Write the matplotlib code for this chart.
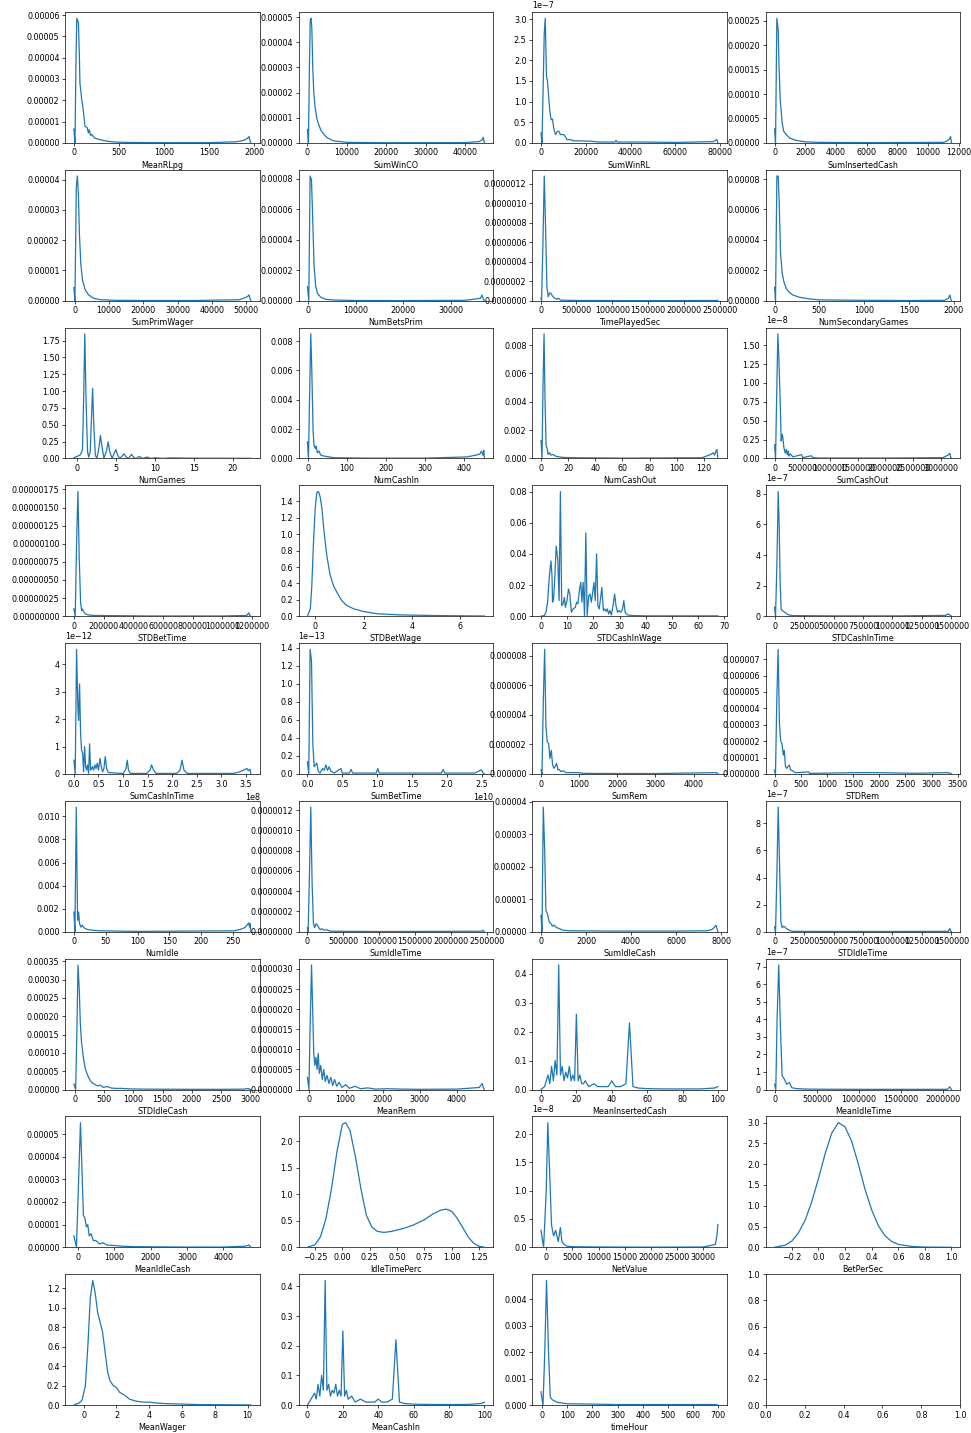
import numpy as np
import matplotlib
matplotlib.use("Agg")
import matplotlib.pyplot as plt
from matplotlib.ticker import MaxNLocator

plt.rcParams["axes.formatter.limits"] = [-7, 7]
plt.rcParams["font.size"] = 5.8
plt.rcParams["axes.linewidth"] = 0.5
plt.rcParams["axes.labelpad"] = 2.3
for ax_name in ("xtick", "ytick"):
    plt.rcParams[ax_name + ".major.size"] = 2.0
    plt.rcParams[ax_name + ".major.width"] = 0.5
    plt.rcParams[ax_name + ".major.pad"] = 2.0

# density curves of each feature (x grid, density)
meanrlpg_x = [0, 12, 22, 32, 50, 60, 67, 85, 104, 123, 135, 149, 160, 171, 185, 197, 230, 290, 365, 450, 600, 1000, 1500, 1800, 1870, 1900, 1925, 1945, 1955, 1965]
meanrlpg_y = np.array([0.65, 0.0, 3.5, 5.85, 5.65, 4.2, 2.8, 2.1, 1.55, 0.78, 0.75, 0.7, 0.47, 0.62, 0.35, 0.4, 0.22, 0.15, 0.08, 0.04, 0.02, 0.01, 0.01, 0.05, 0.1, 0.15, 0.2, 0.3, 0.1, 0.0]) * 1e-5

sumwinco_x = [0, 250, 500, 700, 900, 1100, 1350, 1600, 1950, 2400, 2800, 3400, 4100, 5000, 6600, 10000, 20000, 40000, 43500, 44200, 44500, 44800]
sumwinco_y = np.array([0.53, 0.0, 3.0, 4.85, 4.95, 4.6, 3.0, 2.0, 1.4, 0.95, 0.75, 0.5, 0.35, 0.2, 0.08, 0.02, 0.005, 0.01, 0.05, 0.12, 0.22, 0.0]) * 1e-5

sumwinrl_x = [0, 450, 1000, 1450, 1900, 2450, 2900, 3900, 4500, 5100, 5800, 6500, 7300, 8000, 8700, 10200, 10900, 11600, 13000, 14500, 17000, 22000, 26000, 33000, 33500, 34000, 45000, 60000, 77000, 78500, 79000]
sumwinrl_y = np.array([0.24, 0.0, 1.45, 2.66, 3.02, 1.61, 1.49, 0.8, 0.56, 0.58, 0.32, 0.2, 0.28, 0.28, 0.2, 0.2, 0.15, 0.08, 0.08, 0.05, 0.05, 0.04, 0.02, 0.02, 0.06, 0.02, 0.02, 0.01, 0.03, 0.08, 0.0]) * 1e-7

suminsertedcash_x = [0, 65, 150, 240, 280, 370, 500, 590, 760, 980, 1400, 2050, 2950, 6000, 11000, 11200, 11400, 11470, 11530]
suminsertedcash_y = np.array([2.85, 0.0, 25.5, 23.0, 17.0, 8.8, 4.1, 2.4, 1.7, 1.0, 0.5, 0.2, 0.1, 0.05, 0.1, 0.3, 0.8, 1.3, 0.0]) * 1e-5

sumprimwager_x = [-200, 100, 500, 800, 1100, 1400, 1800, 2300, 3100, 4100, 5500, 7500, 12000, 20000, 35000, 48000, 50300, 50800, 51100, 51300]
sumprimwager_y = np.array([0.43, 0.0, 3.76, 4.12, 3.54, 2.22, 1.23, 0.68, 0.35, 0.19, 0.08, 0.03, 0.01, 0.005, 0.005, 0.03, 0.13, 0.19, 0.05, 0.0]) * 1e-5

numbetsprim_x = [-140, 140, 420, 700, 910, 1260, 1610, 1960, 2660, 3710, 5460, 10000, 20000, 33000, 36260, 36610, 36820, 37100]
numbetsprim_y = np.array([0.92, 0.0, 8.18, 7.96, 5.98, 2.24, 0.92, 0.48, 0.22, 0.09, 0.04, 0.01, 0.005, 0.02, 0.15, 0.37, 0.15, 0.0]) * 1e-5

timeplayedsec_x = [6000, 14000, 32700, 51400, 70000, 88700, 107000, 126000, 145000, 163000, 187000, 220000, 247000, 280000, 444000, 1000000, 2000000, 2475000]
timeplayedsec_y = np.array([0.3, 0.0, 5.8, 12.8, 7.5, 1.4, 0.4, 0.8, 0.75, 0.5, 0.3, 0.15, 0.24, 0.05, 0.02, 0.01, 0.01, 0.02]) * 1e-7

numsecondarygames_x = [0, 11, 26, 41, 52, 67, 86, 104, 130, 167, 205, 279, 391, 502, 1000, 1500, 1900, 1940, 1958, 1965, 1975]
numsecondarygames_y = np.array([0.88, 0.0, 8.2, 8.2, 6.4, 3.1, 1.8, 1.25, 0.81, 0.53, 0.37, 0.22, 0.11, 0.05, 0.02, 0.01, 0.02, 0.15, 0.37, 0.15, 0.0]) * 1e-5

numgames_x = [-0.4, 0.0, 0.4, 0.7, 0.85, 1.0, 1.15, 1.35, 1.5, 1.7, 1.85, 2.0, 2.15, 2.35, 2.55, 2.8, 3.0, 3.2, 3.45, 3.8, 4.0, 4.2, 4.5, 4.85, 5.0, 5.2, 5.5, 5.9, 6.0, 6.3, 6.6, 7.0, 7.3, 7.6, 8.0, 8.4, 9.0, 9.5, 10.0, 11.0, 12.0, 14.0, 16.0, 18.0, 20.0, 22.3]
numgames_y = [0.01, 0.03, 0.05, 0.12, 0.9, 1.85, 0.9, 0.1, 0.02, 0.1, 0.6, 1.04, 0.5, 0.05, 0.0, 0.15, 0.34, 0.18, 0.0, 0.12, 0.245, 0.1, 0.0, 0.1, 0.13, 0.05, 0.0, 0.05, 0.07, 0.02, 0.0, 0.06, 0.01, 0.0, 0.03, 0.0, 0.02, 0.0, 0.01, 0.0, 0.008, 0.004, 0.003, 0.003, 0.002, 0.002]

numcashin_x = [-1.7, 0.9, 4.3, 6.8, 9.4, 12.8, 15.3, 18.7, 20.4, 23.8, 28.1, 32.3, 40.8, 53.6, 66.4, 150, 300, 407, 432, 441, 445, 449, 451, 452.5]
numcashin_y = np.array([1.13, 0.0, 5.0, 8.5, 6.1, 1.85, 0.84, 0.68, 0.84, 0.38, 0.5, 0.23, 0.16, 0.1, 0.05, 0.02, 0.02, 0.1, 0.23, 0.3, 0.5, 0.22, 0.54, 0.0]) * 1e-3

numcashout_x = [0, 0.75, 1.5, 2.25, 3.0, 3.75, 4.5, 5.25, 6.25, 7.5, 8.75, 11.25, 16.25, 23.75, 60, 118.75, 122.5, 125, 126.75, 127.75, 128.75, 129.5, 130.25]
numcashout_y = np.array([1.26, 0.0, 5.2, 8.8, 4.0, 0.86, 0.74, 0.28, 0.4, 0.23, 0.28, 0.14, 0.07, 0.05, 0.02, 0.05, 0.19, 0.28, 0.4, 0.23, 0.5, 0.63, 0.0]) * 1e-3

sumcashout_x = [0, 18000, 42000, 60000, 78000, 102000, 120000, 139000, 151000, 169000, 193000, 211000, 229000, 247000, 259000, 283000, 331000, 482000, 512000, 663000, 693000, 813000, 2000000, 3043000, 3133000, 3163000, 3181000, 3193000]
sumcashout_y = np.array([0.18, 0.0, 0.97, 1.65, 1.32, 0.75, 0.23, 0.32, 0.27, 0.14, 0.07, 0.12, 0.05, 0.1, 0.03, 0.06, 0.02, 0.05, 0.01, 0.035, 0.01, 0.005, 0.005, 0.01, 0.045, 0.07, 0.01, 0.0]) * 1e-8

stdbettime_x = [0, 9000, 18000, 27000, 36000, 45000, 52000, 58000, 65000, 74000, 90000, 130000, 500000, 1000000, 1164000, 1177000, 1184000, 1191000]
stdbettime_y = np.array([1.0, 0.0, 10.1, 17.2, 7.9, 1.9, 0.8, 1.0, 0.64, 0.4, 0.2, 0.1, 0.03, 0.03, 0.1, 0.46, 0.1, 0.0]) * 1e-7

stdbetwage_x = [-0.32, -0.2, -0.14, -0.07, 0.0, 0.07, 0.14, 0.21, 0.28, 0.37, 0.48, 0.62, 0.76, 0.9, 1.1, 1.31, 1.59, 2.0, 2.55, 3.5, 4.9, 6.3, 7.0]
stdbetwage_y = [0.0, 0.09, 0.37, 0.9, 1.31, 1.51, 1.52, 1.45, 1.31, 1.02, 0.74, 0.5, 0.37, 0.29, 0.19, 0.13, 0.09, 0.057, 0.03, 0.016, 0.008, 0.004, 0.002]

stdcashinwage_x = [0, 1.3, 1.9, 2.5, 3.2, 3.8, 4.2, 4.4, 4.8, 5.3, 5.8, 6.4, 6.9, 7.4, 7.9, 8.4, 8.9, 9.3, 9.9, 10.5,
                   11.0, 11.6, 12.3, 13.1, 13.6, 14.1, 14.7, 15.2, 15.6, 16.1, 16.6, 17.1, 17.6, 18.2, 18.7, 19.2, 19.7, 20.2, 20.7, 21.2,
                   21.7, 22.2, 22.7, 23.2, 23.8, 24.3, 24.8, 25.3, 25.8, 26.3, 26.8, 27.4, 28.1, 28.6, 29.2, 29.8, 30.5, 31.1, 31.6, 32.1,
                   33.0, 34.9, 40.0, 48.9, 67.5]
stdcashinwage_y = [0, 0.0004, 0.0025, 0.009, 0.026, 0.0355, 0.026, 0.009, 0.011, 0.026, 0.045, 0.0365, 0.01, 0.08, 0.0068, 0.0078, 0.012, 0.0057, 0.01, 0.0174,
                   0.0142, 0.0025, 0.0047, 0.0057, 0.009, 0.008, 0.0174, 0.0217, 0.009, 0.0217, 0.0004, 0.0535, 0.0004, 0.013, 0.0142, 0.009, 0.015, 0.0217, 0.01, 0.04,
                   0.0068, 0.0047, 0.011, 0.0185, 0.0036, 0.0047, 0.003, 0.0047, 0.0015, 0.0036, 0.0008, 0.0057, 0.0142, 0.0068, 0.0025, 0.0036, 0.0025, 0.0047, 0.01, 0.0025,
                   0.0008, 0.0004, 0.0002, 0.0002, 0.0002]

stdcashintime_x = [0, 8300, 19600, 31000, 39300, 47600, 55800, 64100, 78600, 93000, 112700, 155000, 520000, 1030000, 1450000, 1475000, 1490000, 1500000]
stdcashintime_y = np.array([0.58, 0.0, 3.3, 8.15, 5.9, 2.2, 0.48, 0.37, 0.3, 0.22, 0.1, 0.04, 0.02, 0.02, 0.05, 0.15, 0.05, 0.0]) * 1e-7

sumcashintime_x = np.array([0, 0.027, 0.054, 0.081, 0.095, 0.115, 0.136, 0.156, 0.177, 0.197, 0.217, 0.238, 0.258, 0.278, 0.299, 0.319, 0.34, 0.36, 0.38, 0.40,
                            0.43, 0.45, 0.475, 0.50, 0.53, 0.557, 0.584, 0.611, 0.638, 0.665, 0.70, 1.005, 1.06, 1.086, 1.11, 1.15, 1.48, 1.55, 1.58, 1.62,
                            1.67, 2.09, 2.16, 2.20, 2.24, 2.30, 3.25, 3.38, 3.45, 3.52, 3.55, 3.585, 3.6]) * 1e8
sumcashintime_y = np.array([0.5, 0, 4.54, 2.43, 1.95, 3.28, 1.47, 0.87, 0.75, 0.08, 1.0, 0.27, 0.14, 0.33, 0.02, 1.1, 0.14, 0.2, 0.27, 0.14,
                            0.33, 0.2, 0.39, 0.14, 0.57, 0.27, 0.08, 0.2, 0.63, 0.2, 0.05, 0.02, 0.2, 0.5, 0.14, 0.02, 0.02, 0.14, 0.33, 0.14,
                            0.02, 0.02, 0.14, 0.5, 0.14, 0.02, 0.02, 0.08, 0.14, 0.2, 0.12, 0.17, 0.0]) * 1e-12

sumbettime_x = np.array([0, 0.019, 0.038, 0.058, 0.077, 0.096, 0.115, 0.134, 0.154, 0.18, 0.216, 0.24, 0.264, 0.288, 0.31, 0.336, 0.384, 0.48, 0.5, 0.6,
                         0.624, 0.648, 0.984, 1.008, 1.03, 1.92, 1.944, 1.968, 2.4, 2.45, 2.49, 2.52, 2.535]) * 1e10
sumbettime_y = np.array([0.135, 0, 1.38, 1.25, 0.34, 0.08, 0.1, 0.12, 0.03, 0.01, 0.06, 0.04, 0.1, 0.04, 0.08, 0.03, 0.01, 0.06, 0.01, 0.01,
                         0.05, 0.01, 0.01, 0.06, 0.01, 0.01, 0.05, 0.01, 0.01, 0.03, 0.045, 0.01, 0]) * 1e-13

sumrem_x = [0, 26, 61, 96, 130, 165, 200, 235, 270, 305, 340, 374, 409, 444, 479, 522, 583, 652, 1000, 1090, 2000, 3000, 4610, 4640]
sumrem_y = np.array([0.27, 0.0, 5.0, 8.45, 3.2, 2.17, 2.06, 1.05, 1.6, 0.6, 0.38, 0.54, 0.72, 0.27, 0.31, 0.16, 0.22, 0.09, 0.09, 0.04, 0.03, 0.03, 0.09, 0.0]) * 1e-6

stdrem_x = [0, 18, 43, 68, 93, 117, 142, 167, 185, 210, 235, 260, 284, 308, 339, 400, 650, 667, 830, 1545, 1975, 2700, 3300, 3360, 3380]
stdrem_y = np.array([0.24, 0.0, 4.5, 7.6, 3.1, 2.0, 1.85, 1.15, 1.45, 0.44, 0.34, 0.48, 0.54, 0.24, 0.2, 0.08, 0.12, 0.04, 0.04, 0.08, 0.08, 0.04, 0.08, 0.04, 0.0]) * 1e-6

numidle_x = [0, 1.6, 3.7, 5.8, 7.4, 8.9, 11, 13.1, 15.2, 17.9, 21, 27.8, 41, 100, 251, 261.5, 269, 272, 274.6, 276, 277, 278]
numidle_y = np.array([1.7, 0.0, 10.8, 1.0, 1.7, 0.7, 0.4, 0.57, 0.37, 0.28, 0.2, 0.14, 0.08, 0.03, 0.08, 0.2, 0.37, 0.57, 0.77, 0.4, 0.7, 0.0]) * 1e-3

sumidletime_x = [0, 9300, 28000, 46500, 65000, 83600, 102000, 121000, 139000, 158000, 177000, 200000, 232000, 270000, 316000, 1000000, 2430000, 2444000, 2463000]
sumidletime_y = np.array([0.4, 0.0, 5.7, 12.3, 4.7, 0.8, 0.4, 0.8, 0.65, 0.4, 0.2, 0.3, 0.15, 0.2, 0.05, 0.02, 0.05, 0.15, 0.0]) * 1e-7

sumidlecash_x = [0, 44, 102, 161, 219, 292, 365, 438, 511, 584, 686, 803, 949, 1241, 3000, 6000, 7373, 7592, 7694, 7767, 7811, 7855]
sumidlecash_y = np.array([5.0, 0.0, 38.3, 25.7, 6.6, 5.3, 3.0, 2.5, 1.7, 2.0, 1.3, 1.0, 0.5, 0.3, 0.2, 0.2, 0.3, 0.7, 1.3, 2.0, 1.0, 0.0]) * 1e-6

stdidletime_x = [0, 8500, 19600, 31000, 42400, 53800, 65100, 76500, 87900, 99300, 112700, 133400, 155000, 520000, 1030000, 1472000, 1486000, 1494000, 1500000]
stdidletime_y = np.array([0.36, 0.0, 4.2, 9.2, 5.0, 0.73, 0.3, 0.4, 0.36, 0.24, 0.17, 0.07, 0.03, 0.02, 0.02, 0.03, 0.24, 0.05, 0.0]) * 1e-7

stdidlecash_x = [-20, 10, 30, 50, 70, 90, 110, 140, 170, 200, 240, 280, 330, 380, 430, 480, 550, 620, 700, 800, 900, 1000, 1200, 1500, 2000, 2500, 2900, 2960, 2990, 3010]
stdidlecash_y = np.array([1.5, 0.0, 15, 34, 28, 18, 13, 9, 6, 4.5, 3.0, 2.0, 1.5, 1.0, 1.2, 0.6, 0.8, 0.4, 0.3, 0.3, 0.2, 0.15, 0.1, 0.08, 0.05, 0.05, 0.1, 0.3, 0.1, 0.0]) * 1e-5

meanrem_x = [-30, 10, 40, 80, 110, 140, 170, 200, 230, 260, 290, 330, 370, 410, 450, 500, 550, 600, 650, 700, 760, 820, 900, 1000, 1100, 1250, 1400, 1600, 1800, 2100, 2500, 3000, 4000, 4600, 4680, 4720, 4740]
meanrem_y = np.array([3, 0, 15, 31, 20, 9, 6, 8, 5, 9, 4, 6, 2.5, 5, 2, 3.5, 1.5, 3, 1, 2.5, 0.8, 1.8, 0.5, 1.2, 0.3, 0.8, 0.2, 0.4, 0.1, 0.2, 0.1, 0.05, 0.1, 0.5, 1.5, 0.2, 0]) * 1e-7

meaninsertedcash_x = [0, 2, 4, 5, 6, 7, 8, 9, 10, 11, 12, 13, 14, 15, 16, 17, 18, 19, 20, 21, 22, 23, 24, 25, 27, 30, 32, 35, 38, 40, 42, 45, 48, 50, 52, 55, 60, 70, 80, 90, 98, 100]
meaninsertedcash_y = [0.0, 0.01, 0.05, 0.02, 0.08, 0.03, 0.1, 0.05, 0.43, 0.05, 0.08, 0.03, 0.06, 0.04, 0.08, 0.03, 0.05, 0.03, 0.26, 0.03, 0.05, 0.02, 0.02, 0.03, 0.01, 0.02, 0.01, 0.01, 0.01, 0.03, 0.01, 0.01, 0.02, 0.23, 0.01, 0.005, 0.003, 0.002, 0.002, 0.002, 0.005, 0.01]

meanidletime_x = [-5000, 10000, 25000, 45000, 65000, 85000, 110000, 140000, 170000, 200000, 260000, 400000, 1000000, 2050000, 2080000, 2100000]
meanidletime_y = np.array([0.3, 0, 4, 7.1, 3.5, 0.8, 0.6, 0.3, 0.4, 0.1, 0.05, 0.02, 0.01, 0.01, 0.15, 0]) * 1e-7

meanidlecash_x = [-100, -30, 30, 80, 120, 160, 200, 240, 280, 320, 370, 430, 500, 600, 700, 800, 1000, 1200, 1500, 2000, 3000, 4000, 4600, 4700, 4750]
meanidlecash_y = np.array([0.5, 0, 3, 5.5, 3.5, 1.4, 1.3, 0.9, 1.0, 0.5, 0.6, 0.3, 0.3, 0.15, 0.2, 0.1, 0.08, 0.05, 0.03, 0.02, 0.01, 0.01, 0.05, 0.1, 0]) * 1e-5

idletimeperc_x = [-0.32, -0.25, -0.2, -0.15, -0.1, -0.05, 0.0, 0.03, 0.07, 0.12, 0.17, 0.22, 0.27, 0.32, 0.38, 0.45, 0.55, 0.65, 0.75, 0.83, 0.9, 0.95, 1.0, 1.05, 1.1, 1.15, 1.2, 1.25, 1.3]
idletimeperc_y = [0, 0.05, 0.2, 0.55, 1.1, 1.8, 2.32, 2.35, 2.2, 1.7, 1.1, 0.6, 0.38, 0.3, 0.28, 0.3, 0.35, 0.42, 0.52, 0.63, 0.7, 0.72, 0.68, 0.55, 0.38, 0.2, 0.08, 0.02, 0]

netvalue_x = [-1000, -500, 0, 300, 700, 1000, 1400, 1800, 2300, 2700, 3000, 3400, 4000, 5000, 10000, 20000, 30000, 32300, 32600, 32800]
netvalue_y = np.array([0.3, 0, 1.0, 2.2, 1.2, 0.4, 0.2, 0.3, 0.1, 0.35, 0.1, 0.05, 0.02, 0.01, 0.005, 0.002, 0.005, 0.05, 0.2, 0.4]) * 1e-8

betpersec_x = [-0.33, -0.25, -0.2, -0.15, -0.1, -0.05, 0, 0.05, 0.1, 0.15, 0.2, 0.25, 0.3, 0.35, 0.4, 0.45, 0.5, 0.55, 0.6, 0.7, 0.8, 0.9, 1.0]
betpersec_y = [0, 0.05, 0.15, 0.35, 0.65, 1.1, 1.65, 2.25, 2.75, 3.0, 2.9, 2.55, 2.0, 1.4, 0.9, 0.52, 0.28, 0.14, 0.07, 0.02, 0.005, 0.002, 0]

meanwager_x = [-0.6, -0.3, -0.1, 0.1, 0.25, 0.4, 0.55, 0.7, 0.85, 1.0, 1.15, 1.3, 1.45, 1.6, 1.8, 2.0, 2.2, 2.5, 2.8, 3.2, 3.6, 4.0, 4.5, 5, 6, 7, 8, 9, 10, 10.2]
meanwager_y = [0, 0.02, 0.05, 0.2, 0.6, 1.1, 1.28, 1.15, 0.95, 0.85, 0.75, 0.55, 0.35, 0.25, 0.2, 0.18, 0.13, 0.1, 0.06, 0.04, 0.03, 0.03, 0.02, 0.015, 0.01, 0.005, 0.004, 0.003, 0.002, 0]

meancashin_x = [0, 2, 4, 5, 6, 7, 8, 9, 10, 11, 12, 13, 14, 15, 16, 17, 18, 19, 20, 21, 22, 23, 25, 27, 30, 33, 35, 38, 40, 42, 45, 48, 50, 52, 55, 60, 70, 80, 90, 98, 100]
meancashin_y = [0.0, 0.02, 0.04, 0.02, 0.07, 0.03, 0.1, 0.05, 0.42, 0.05, 0.07, 0.03, 0.05, 0.04, 0.07, 0.03, 0.05, 0.03, 0.25, 0.03, 0.05, 0.02, 0.03, 0.01, 0.02, 0.01, 0.01, 0.01, 0.02, 0.01, 0.01, 0.02, 0.22, 0.01, 0.005, 0.003, 0.002, 0.002, 0.002, 0.005, 0.01]

timehour_x = [-5, 3, 10, 17, 25, 32, 40, 60, 100, 300, 690, 700]
timehour_y = np.array([0.5, 0, 2.0, 4.7, 2.0, 0.3, 0.2, 0.1, 0.05, 0.02, 0.02, 0.0]) * 1e-3

features = ["MeanRLpg", "SumWinCO", "SumWinRL", "SumInsertedCash",
            "SumPrimWager", "NumBetsPrim", "TimePlayedSec", "NumSecondaryGames",
            "NumGames", "NumCashIn", "NumCashOut", "SumCashOut",
            "STDBetTime", "STDBetWage", "STDCashInWage", "STDCashInTime",
            "SumCashInTime", "SumBetTime", "SumRem", "STDRem",
            "NumIdle", "SumIdleTime", "SumIdleCash", "STDIdleTime",
            "STDIdleCash", "MeanRem", "MeanInsertedCash", "MeanIdleTime",
            "MeanIdleCash", "IdleTimePerc", "NetValue", "BetPerSec",
            "MeanWager", "MeanCashIn", "timeHour"]

curves = [(meanrlpg_x, meanrlpg_y), (sumwinco_x, sumwinco_y), (sumwinrl_x, sumwinrl_y), (suminsertedcash_x, suminsertedcash_y),
          (sumprimwager_x, sumprimwager_y), (numbetsprim_x, numbetsprim_y), (timeplayedsec_x, timeplayedsec_y), (numsecondarygames_x, numsecondarygames_y),
          (numgames_x, numgames_y), (numcashin_x, numcashin_y), (numcashout_x, numcashout_y), (sumcashout_x, sumcashout_y),
          (stdbettime_x, stdbettime_y), (stdbetwage_x, stdbetwage_y), (stdcashinwage_x, stdcashinwage_y), (stdcashintime_x, stdcashintime_y),
          (sumcashintime_x, sumcashintime_y), (sumbettime_x, sumbettime_y), (sumrem_x, sumrem_y), (stdrem_x, stdrem_y),
          (numidle_x, numidle_y), (sumidletime_x, sumidletime_y), (sumidlecash_x, sumidlecash_y), (stdidletime_x, stdidletime_y),
          (stdidlecash_x, stdidlecash_y), (meanrem_x, meanrem_y), (meaninsertedcash_x, meaninsertedcash_y), (meanidletime_x, meanidletime_y),
          (meanidlecash_x, meanidlecash_y), (idletimeperc_x, idletimeperc_y), (netvalue_x, netvalue_y), (betpersec_x, betpersec_y),
          (meanwager_x, meanwager_y), (meancashin_x, meancashin_y), (timehour_x, timehour_y)]

fig, axes = plt.subplots(9, 4, figsize=(9.71, 14.33), dpi=100)
fig.subplots_adjust(left=0.067, right=0.989, bottom=0.0195, top=0.9916,
                    wspace=0.2, hspace=0.206)

for ax in axes.flat:
    ax.xaxis.set_major_locator(MaxNLocator(nbins=8, steps=[1, 2, 2.5, 5, 10]))
    ax.yaxis.set_major_locator(MaxNLocator(nbins=8, steps=[1, 2, 2.5, 5, 10]))

for ax, name, (x, y) in zip(axes.flat, features, curves):
    ax.plot(x, y, color="#1f77b4", lw=0.9)
    ax.set_ylim(bottom=0)
    ax.set_xlabel(name)

fig.savefig("out.png", dpi=100)
